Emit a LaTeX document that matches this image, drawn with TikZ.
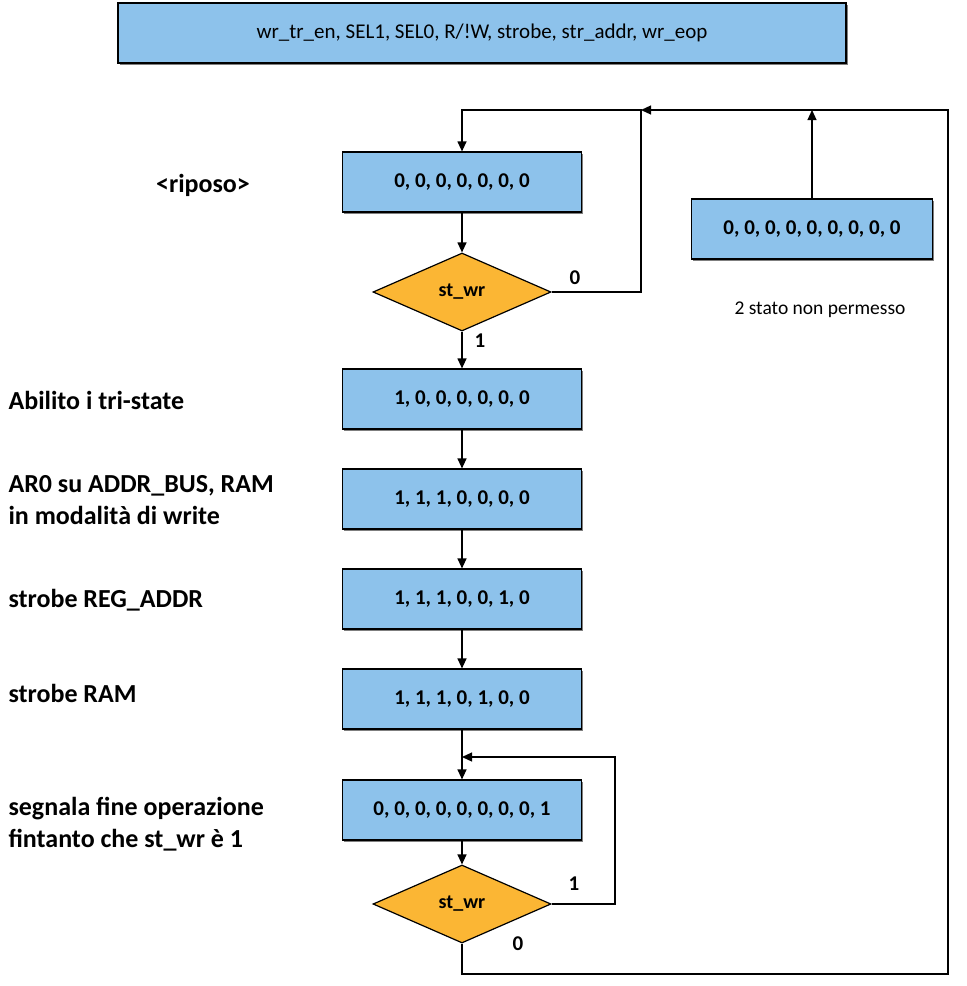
\documentclass[tikz,border=0pt]{standalone}
\usepackage{fontspec}
\setmainfont{Carlito}
\usetikzlibrary{arrows.meta,shapes.geometric,shadows}
\definecolor{boxblue}{HTML}{8DC2EB}
\definecolor{testorange}{HTML}{FBB634}
\tikzset{
  statebox/.style={draw, line width=1.2pt, fill=boxblue, minimum width=239pt, minimum height=60pt,
    font=\fontsize{21}{23}\selectfont\bfseries,
    drop shadow={shadow xshift=1.5pt, shadow yshift=-1.5pt, opacity=0.5, fill=black}},
  test/.style={diamond, draw, line width=1.2pt, fill=testorange, inner sep=0pt, aspect=2.28,
    minimum width=178pt, minimum height=78pt, font=\fontsize{20}{22}\selectfont\bfseries},
  wire/.style={line width=1.2pt},
  arr/.style={wire, -{Triangle[length=10pt,width=9pt]}},
  note/.style={font=\fontsize{26}{32}\selectfont\bfseries, align=left, anchor=west},
  bit/.style={font=\fontsize{21}{23}\selectfont\bfseries},
}
\begin{document}
\begin{tikzpicture}[x=1pt, y=-1pt]
\useasboundingbox (0,0) rectangle (967,986);

% legenda dei segnali
\node[statebox, minimum width=728pt, font=\fontsize{21}{23}\selectfont] (head) at (482,33)
  {wr\_tr\_en, SEL1, SEL0, R/!W, strobe, str\_addr, wr\_eop};

% stati
\node[statebox] (s0) at (462,182) {0, 0, 0, 0, 0, 0, 0};
\node[test] (d0) at (462,292) {st\_wr};
\node[statebox] (s1) at (462,399) {1, 0, 0, 0, 0, 0, 0};
\node[statebox] (s2) at (462,499) {1, 1, 1, 0, 0, 0, 0};
\node[statebox] (s3) at (462,599) {1, 1, 1, 0, 0, 1, 0};
\node[statebox] (s4) at (462,699) {1, 1, 1, 0, 1, 0, 0};
\node[statebox] (s5) at (462,810) {0, 0, 0, 0, 0, 0, 0, 0, 1};
\node[test] (d1) at (462,904) {st\_wr};
\node[statebox, minimum width=241pt] (bad) at (812,229) {0, 0, 0, 0, 0, 0, 0, 0, 0};
\node[font=\fontsize{19.5}{22}\selectfont] (badnote) at (820,310) {2 stato non permesso};

% descrizioni
\node[font=\fontsize{26}{32}\selectfont\bfseries] (n0) at (203,185) {<riposo>};
\node[note] (n1) at (5,400) {Abilito i tri-state};
\node[note] (n2) at (5,500) {AR0 su ADDR\_BUS, RAM\\in modalità di write};
\node[note] (n3) at (5,600) {strobe REG\_ADDR};
\node[note] (n4) at (5,693) {strobe RAM};
\node[note] (n5) at (5,824) {segnala fine operazione\\fintanto che st\_wr è 1};

% punti di ritorno
\coordinate (top) at (641,110);
\coordinate (rtop) at (948,110);
\coordinate (rbot) at (948,974);
\coordinate (rloop) at (615,757);

% collegamenti
\draw[arr] (s0) -- (d0);
\draw[arr] (d0) -- (s1);
\draw[arr] (s1) -- (s2);
\draw[arr] (s2) -- (s3);
\draw[arr] (s3) -- (s4);
\draw[arr] (s4) -- (s5);
\draw[arr] (s5) -- (d1);
\draw[arr] (d0.east) -| (top) -| (s0.north);
\draw[arr] (bad.north) -- (bad.north |- top);
\draw[arr] (d1.east) -| (rloop) -- (s5.north |- rloop);
\draw[arr] (d1.south) |- (rbot) -- (rtop) -- (top);

% etichette delle uscite
\node[bit] (b00) at (575,278) {0};
\node[bit] (b01) at (480,341) {1};
\node[bit] (b11) at (574,884) {1};
\node[bit] (b10) at (518,944) {0};
\end{tikzpicture}
\end{document}
